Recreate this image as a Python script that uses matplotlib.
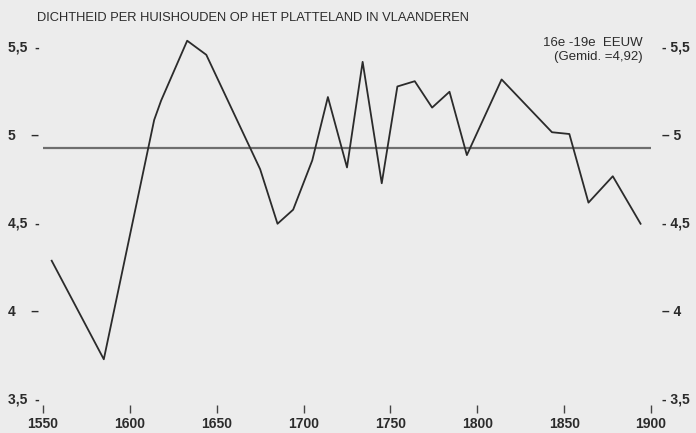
import numpy as np
import matplotlib
matplotlib.use('Agg')
import matplotlib.pyplot as plt

# values
years = [1555, 1585, 1614, 1618, 1633, 1644, 1675, 1685, 1694, 1705, 1714, 1725,
         1734, 1745, 1754, 1764, 1774, 1784, 1794, 1814, 1843, 1853, 1864, 1878, 1894]
density = [4.28, 3.72, 5.08, 5.19, 5.53, 5.45, 4.80, 4.49, 4.57, 4.85, 5.21, 4.81,
           5.41, 4.72, 5.27, 5.30, 5.15, 5.24, 4.88, 5.31, 5.01, 5.00, 4.61, 4.76, 4.49]
mean_value = 4.92
year_span = [1550, 1900]

xticks = [1550, 1600, 1650, 1700, 1750, 1800, 1850, 1900]
yticks = [3.5, 4, 4.5, 5, 5.5]
left_labels = ["3,5  -", "4    \u2013", "4,5  -", "5    \u2013", "5,5  -"]
right_labels = ["- 3,5", "\u2013 4", "- 4,5", "\u2013 5", "- 5,5"]

title = "DICHTHEID PER HUISHOUDEN OP HET PLATTELAND IN VLAANDEREN"
note = "16e -19e  EEUW\n(Gemid. =4,92)"

bg = '#ececec'
ink = '#2b2b2b'
font = 'Liberation Sans'

fig = plt.figure(figsize=(6.96, 4.33), dpi=100, facecolor=bg)
ax = fig.add_axes([43/696, 35/433, 608/696, 352/433], facecolor=bg)

ax.plot(year_span, [mean_value, mean_value], color='#6e6e6e', lw=1.6)
ax.plot(years, density, color=ink, lw=1.3, clip_on=False)

ax.set_xlim(year_span)
ax.set_ylim(3.5, 5.5)
for s in ax.spines.values():
    s.set_visible(False)
ax.spines['bottom'].set_position(('outward', 5))

ax.set_xticks(xticks)
ax.set_xticklabels([str(x) for x in xticks], fontsize=10, color=ink, family=font,
                   fontweight='bold')
ax.tick_params(axis='x', length=5.5, width=1.0, color='#444444', pad=3.5)

ax.set_yticks(yticks)
ax.set_yticklabels(left_labels, fontsize=10, color=ink, family=font, ha='left',
                   fontweight='bold')
ax.tick_params(axis='y', length=0, pad=25)

ax2 = ax.twinx()
ax2.set_ylim(3.5, 5.5)
for s in ax2.spines.values():
    s.set_visible(False)
ax2.set_yticks(yticks)
ax2.set_yticklabels(right_labels, fontsize=10, color=ink, family=font, fontweight='bold')
ax2.tick_params(axis='y', length=0, pad=8)

fig.text(37/696, 1 - 18/433, title, fontsize=9.3, color=ink, family=font,
         va='center', ha='left')
fig.text(643/696, 1 - 50/433, note, fontsize=9.5, color=ink, family=font,
         va='center', ha='right', multialignment='right', linespacing=1.15)

fig.savefig('out.png', dpi=100, facecolor=bg)
